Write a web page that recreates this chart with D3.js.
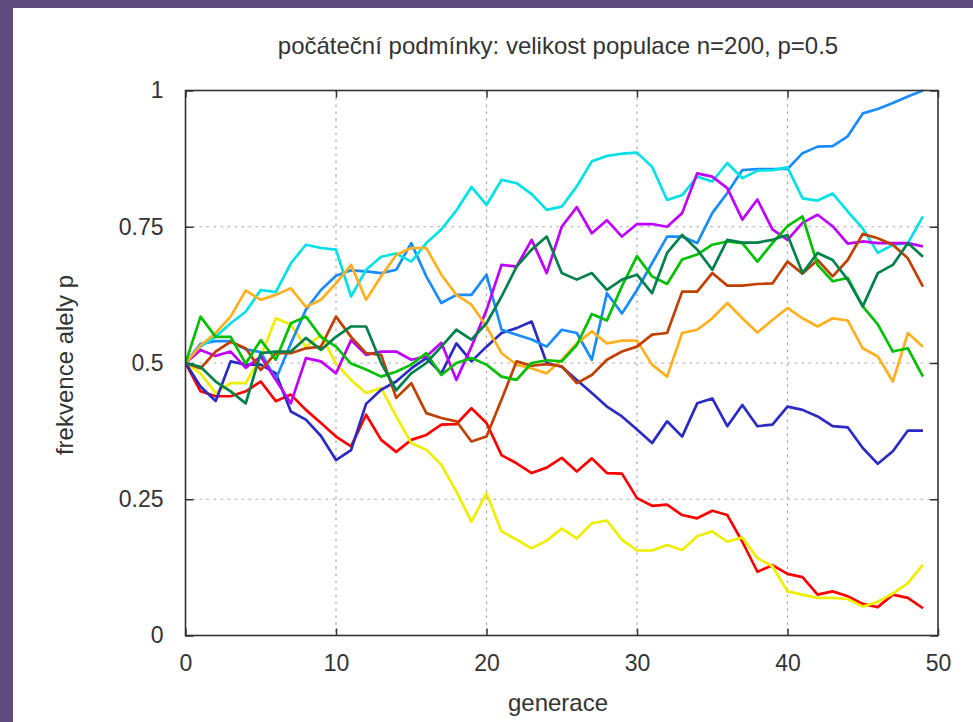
<!DOCTYPE html>
<html>
<head>
<meta charset="utf-8">
<script src="https://cdnjs.cloudflare.com/ajax/libs/d3/7.8.5/d3.min.js"></script>
<style>
  html, body { margin: 0; padding: 0; background: #ffffff; }
  svg { display: block; }
  text { font-family: "Liberation Sans", Arial, sans-serif; fill: #333333; }
</style>
</head>
<body>
<svg id="chart" width="973" height="722"></svg>
<script>
// Generations 0..49 on the x axis
const generations = d3.range(0, 50);

// Allele frequency p in each simulated population, one value per generation
const pRed = [0.5,0.448,0.439,0.439,0.448,0.466,0.43,0.442,0.414,0.39,0.365,0.347,0.405,0.359,0.337,0.359,0.368,0.387,0.388,0.417,0.39,0.331,0.316,0.298,0.308,0.326,0.301,0.325,0.298,0.297,0.252,0.238,0.24,0.221,0.215,0.229,0.221,0.172,0.117,0.129,0.113,0.107,0.075,0.081,0.072,0.058,0.052,0.075,0.069,0.05];
const pYellow = [0.5,0.481,0.445,0.463,0.463,0.512,0.582,0.57,0.53,0.551,0.499,0.469,0.445,0.454,0.402,0.353,0.341,0.313,0.264,0.209,0.261,0.191,0.176,0.16,0.174,0.196,0.178,0.206,0.211,0.176,0.156,0.156,0.166,0.157,0.182,0.191,0.172,0.18,0.142,0.127,0.081,0.075,0.069,0.069,0.067,0.053,0.062,0.077,0.096,0.13];
const pNavy = [0.5,0.457,0.43,0.503,0.497,0.497,0.481,0.411,0.396,0.366,0.322,0.34,0.425,0.451,0.466,0.49,0.509,0.481,0.536,0.503,0.53,0.555,0.564,0.576,0.5,0.493,0.469,0.445,0.42,0.402,0.378,0.353,0.393,0.365,0.426,0.435,0.384,0.423,0.384,0.387,0.42,0.414,0.402,0.384,0.382,0.344,0.315,0.338,0.376,0.376];
const pAzure = [0.5,0.535,0.54,0.54,0.525,0.52,0.47,0.536,0.598,0.634,0.66,0.67,0.668,0.665,0.671,0.72,0.659,0.61,0.625,0.625,0.662,0.561,0.552,0.543,0.53,0.561,0.555,0.506,0.628,0.591,0.634,0.683,0.732,0.732,0.72,0.775,0.812,0.854,0.856,0.856,0.856,0.885,0.897,0.898,0.916,0.958,0.966,0.977,0.989,1.0];
const pCyan = [0.5,0.53,0.548,0.573,0.594,0.634,0.63,0.683,0.717,0.711,0.708,0.622,0.671,0.695,0.701,0.686,0.72,0.745,0.78,0.823,0.79,0.836,0.83,0.81,0.781,0.787,0.824,0.87,0.88,0.884,0.886,0.86,0.799,0.808,0.842,0.833,0.867,0.839,0.853,0.854,0.859,0.802,0.798,0.811,0.778,0.747,0.702,0.717,0.72,0.769];
const pViolet = [0.5,0.524,0.513,0.521,0.491,0.512,0.469,0.426,0.509,0.503,0.481,0.542,0.515,0.521,0.521,0.506,0.512,0.537,0.469,0.53,0.597,0.68,0.677,0.726,0.665,0.75,0.786,0.738,0.762,0.732,0.755,0.755,0.75,0.775,0.848,0.842,0.821,0.763,0.8,0.745,0.726,0.757,0.772,0.751,0.719,0.723,0.72,0.72,0.72,0.714];
const pOrange = [0.5,0.532,0.555,0.585,0.633,0.616,0.625,0.637,0.603,0.616,0.646,0.68,0.616,0.659,0.698,0.711,0.711,0.662,0.625,0.607,0.567,0.518,0.497,0.49,0.481,0.506,0.536,0.558,0.536,0.541,0.541,0.497,0.475,0.555,0.561,0.582,0.61,0.582,0.556,0.579,0.601,0.582,0.567,0.582,0.578,0.527,0.512,0.466,0.555,0.53];
const pBrown = [0.5,0.49,0.521,0.539,0.527,0.487,0.518,0.518,0.527,0.53,0.585,0.548,0.518,0.515,0.436,0.463,0.408,0.399,0.393,0.356,0.365,0.433,0.503,0.495,0.498,0.494,0.463,0.478,0.506,0.521,0.53,0.552,0.555,0.631,0.631,0.665,0.642,0.642,0.645,0.646,0.686,0.664,0.689,0.659,0.689,0.737,0.729,0.717,0.692,0.64];
const pGreen = [0.5,0.585,0.548,0.548,0.499,0.542,0.506,0.573,0.585,0.548,0.53,0.499,0.488,0.475,0.484,0.497,0.518,0.478,0.5,0.509,0.497,0.475,0.469,0.5,0.505,0.503,0.533,0.59,0.578,0.641,0.696,0.659,0.645,0.69,0.699,0.717,0.723,0.72,0.686,0.72,0.751,0.769,0.68,0.65,0.656,0.604,0.571,0.521,0.527,0.475];
const pDarkGreen = [0.5,0.493,0.466,0.448,0.426,0.518,0.521,0.521,0.546,0.524,0.548,0.567,0.567,0.5,0.45,0.481,0.5,0.53,0.561,0.543,0.573,0.622,0.677,0.708,0.732,0.665,0.653,0.665,0.634,0.653,0.662,0.628,0.702,0.735,0.708,0.671,0.726,0.721,0.721,0.726,0.735,0.665,0.702,0.689,0.653,0.604,0.665,0.68,0.72,0.695];

const seriesList = [pRed, pYellow, pNavy, pAzure, pCyan, pViolet, pOrange, pBrown, pGreen, pDarkGreen];
const seriesColors = ["#ff0000", "#eeee00", "#2b2bc4", "#1a8cff", "#00e1e6", "#c000ff", "#ffb020", "#c04000", "#00c000", "#00804a"];

// Tick positions and labels
const xTicks = [0, 10, 20, 30, 40, 50];
const yTicks = [0, 0.25, 0.5, 0.75, 1];
const yTickLabels = ["0", "0.25", "0.5", "0.75", "1"];

const titleText = "počáteční podmínky: velikost populace n=200, p=0.5";
const xLabel = "generace";
const yLabel = "frekvence alely p";

// Layout
const W = 973, H = 722;
const plot = { left: 185.5, right: 938, top: 90.5, bottom: 635.5 };
const svg = d3.select("#chart");

// page background with side and top band
svg.append("rect").attr("width", W).attr("height", H).attr("fill", "#5f4b7e");
svg.append("rect").attr("x", 13).attr("y", 8).attr("width", W - 13).attr("height", H - 8).attr("fill", "#ffffff");

const x = d3.scaleLinear().domain([0, 50]).range([plot.left, plot.right]);
const y = d3.scaleLinear().domain([0, 1]).range([plot.bottom, plot.top]);

// dotted grid at inner ticks
const grid = svg.append("g").attr("stroke", "#a8a8a8").attr("stroke-width", 1.2).attr("stroke-dasharray", "2.5,4.5");
grid.selectAll("line.gx").data(xTicks.filter(d => d > 0 && d < 50)).join("line")
  .attr("x1", d => x(d)).attr("x2", d => x(d)).attr("y1", plot.top).attr("y2", plot.bottom);
grid.selectAll("line.gy").data(yTicks.filter(d => d > 0 && d < 1)).join("line")
  .attr("y1", d => y(d)).attr("y2", d => y(d)).attr("x1", plot.left).attr("x2", plot.right);

// axes with inward ticks, mirrored on top and right
const axisStyle = g => {
  g.select(".domain").remove();
  g.selectAll(".tick line").attr("stroke", "#333").attr("stroke-width", 1.5);
  g.selectAll(".tick text").attr("font-size", 23).attr("fill", "#333");
};
svg.append("g").attr("transform", `translate(0,${plot.bottom})`)
  .call(d3.axisBottom(x).tickValues(xTicks).tickFormat(d3.format("d")).tickSize(-7).tickPadding(19))
  .call(axisStyle);
svg.append("g").attr("transform", `translate(0,${plot.top})`)
  .call(d3.axisTop(x).tickValues(xTicks).tickFormat("").tickSize(-7))
  .call(axisStyle);
svg.append("g").attr("transform", `translate(${plot.left},0)`)
  .call(d3.axisLeft(y).tickValues(yTicks).tickFormat((d, i) => yTickLabels[i]).tickSize(-8).tickPadding(22))
  .call(axisStyle);
svg.append("g").attr("transform", `translate(${plot.right},0)`)
  .call(d3.axisRight(y).tickValues(yTicks).tickFormat("").tickSize(-8))
  .call(axisStyle);

// series lines, clipped to the plot box
svg.append("clipPath").attr("id", "plotClip").append("rect")
  .attr("x", plot.left).attr("y", plot.top - 2).attr("width", plot.right - plot.left).attr("height", plot.bottom - plot.top + 2);
const line = d3.line().x((d, i) => x(generations[i])).y(d => y(d));
svg.append("g").attr("clip-path", "url(#plotClip)")
  .selectAll("path").data(seriesList).join("path")
  .attr("d", line)
  .attr("fill", "none")
  .attr("stroke", (d, i) => seriesColors[i])
  .attr("stroke-width", 2.7)
  .attr("stroke-linejoin", "round");

// plot border
svg.append("rect").attr("x", plot.left).attr("y", plot.top)
  .attr("width", plot.right - plot.left).attr("height", plot.bottom - plot.top)
  .attr("fill", "none").attr("stroke", "#333").attr("stroke-width", 1.6);

// title and axis labels
svg.append("text").attr("x", 558).attr("y", 54).attr("text-anchor", "middle").attr("font-size", 24).text(titleText);
svg.append("text").attr("x", 558).attr("y", 711).attr("text-anchor", "middle").attr("font-size", 24).text(xLabel);
svg.append("text").attr("transform", "translate(73,365) rotate(-90)").attr("text-anchor", "middle").attr("font-size", 24).text(yLabel);
</script>
</body>
</html>
